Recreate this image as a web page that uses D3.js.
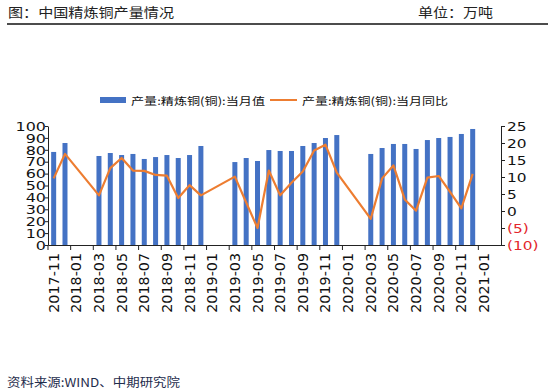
<!DOCTYPE html>
<html>
<head>
<meta charset="utf-8">
<title>中国精炼铜产量情况</title>
<script src="https://d3js.org/d3.v7.min.js"></script>
<style>
  body { margin: 0; background: #fff; }
  svg { display: block; }
</style>
</head>
<body>
<div id="chart"></div>
<script>
// 月份（类别）
const months = [
  "2017-11", "2017-12",
  "2018-01", "2018-02", "2018-03", "2018-04", "2018-05", "2018-06",
  "2018-07", "2018-08", "2018-09", "2018-10", "2018-11", "2018-12",
  "2019-01", "2019-02", "2019-03", "2019-04", "2019-05", "2019-06",
  "2019-07", "2019-08", "2019-09", "2019-10", "2019-11", "2019-12",
  "2020-01", "2020-02", "2020-03", "2020-04", "2020-05", "2020-06",
  "2020-07", "2020-08", "2020-09", "2020-10", "2020-11", "2020-12",
  "2021-01", "2021-02"
]
// 当月值（万吨），1-2月无数据
const output = [
  78.2, 85.7,
  null, null, 74.8, 77.3, 75.6, 76.5, 72.3, 73.9, 75.6, 73.1, 75.6, 83.2,
  null, null, 69.7, 73.1, 70.6, 79.8, 79.0, 79.0, 83.2, 85.7, 89.9, 92.4,
  null, null, 76.5, 81.5, 84.9, 84.9, 80.7, 88.2, 89.9, 90.8, 93.3, 97.5,
  null, null
]
// 当月同比（%）
const yoy = [
  9.6, 16.8,
  null, null, 4.6, 12.6, 15.6, 11.9, 11.8, 10.6, 10.4, 3.8, 7.6, 4.6,
  null, null, 10.1, 2.5, -5.0, 11.9, 4.6, 8.3, 11.6, 17.8, 19.5, 11.3,
  null, null, -2.3, 9.6, 13.4, 3.4, 0.1, 9.8, 10.3, 5.6, 0.8, 10.9,
  null, null
]
const leftTicks = [0, 10, 20, 30, 40, 50, 60, 70, 80, 90, 100]
const rightTicks = [-10, -5, 0, 5, 10, 15, 20, 25]
const seriesNames = ["产量:精炼铜(铜):当月值", "产量:精炼铜(铜):当月同比"]

const W = 548, H = 392
const plot = { left: 48, right: 501, top: 126, bottom: 245 }
const BLUE = "#4472C4", ORANGE = "#ED7D31"

const svg = d3.select("#chart").append("svg")
  .attr("width", W).attr("height", H)

// 标题
svg.append("text")
  .attr("x", 8).attr("y", 17)
  .attr("textLength", 166).attr("lengthAdjust", "spacingAndGlyphs")
  .style("font-family", "'Noto Sans CJK SC'").style("font-size", "13px")
  .attr("fill", "#222")
  .text("图：中国精炼铜产量情况")
svg.append("text")
  .attr("x", 418).attr("y", 17)
  .attr("textLength", 75).attr("lengthAdjust", "spacingAndGlyphs")
  .style("font-family", "'Noto Sans CJK SC'").style("font-size", "13px")
  .attr("fill", "#222")
  .text("单位：万吨")
svg.append("line")
  .attr("x1", 7).attr("x2", 548).attr("y1", 24).attr("y2", 24)
  .attr("stroke", "#111").attr("stroke-width", 1.5)

// 比例尺
const x = d3.scaleBand().domain(months).range([plot.left, plot.right])
const yL = d3.scaleLinear().domain([0, 100]).range([plot.bottom, plot.top])
const yR = d3.scaleLinear().domain([-10, 25]).range([plot.bottom, plot.top])
const barW = 5

// 柱
svg.append("g").selectAll("rect")
  .data(months.map((m, i) => ({ m, v: output[i] })).filter(d => d.v != null))
  .enter().append("rect")
  .attr("x", d => x(d.m) + x.bandwidth() / 2 - barW / 2)
  .attr("width", barW)
  .attr("y", d => yL(d.v))
  .attr("height", d => yL(0) - yL(d.v))
  .attr("fill", BLUE)

// 折线（跨过空缺月份连接）
const linePts = months.map((m, i) => ({ m, v: yoy[i] })).filter(d => d.v != null)
svg.append("path")
  .datum(linePts)
  .attr("fill", "none")
  .attr("stroke", ORANGE)
  .attr("stroke-width", 2.2)
  .attr("stroke-linejoin", "round")
  .attr("d", d3.line()
    .x(d => x(d.m) + x.bandwidth() / 2)
    .y(d => yR(d.v)))

// 左轴
const axL = svg.append("g")
  .attr("transform", `translate(${plot.left},0)`)
  .call(d3.axisLeft(yL).tickValues(leftTicks).tickSize(3).tickSizeOuter(0))
axL.select(".domain").attr("stroke", "#222")
axL.selectAll(".tick line").attr("stroke", "#222")
axL.selectAll(".tick text")
  .attr("x", 0).attr("dy", null).attr("y", 4.2)
  .attr("transform", "translate(-2,0) scale(1.4,1)")
  .style("font-family", "'DejaVu Sans'").style("font-size", "11.4px")
  .attr("fill", "#111")

// 右轴
const fmtR = d => d < 0 ? `(${-d})` : `${d}`
const axR = svg.append("g")
  .attr("transform", `translate(${plot.right},0)`)
  .call(d3.axisRight(yR).tickValues(rightTicks).tickSize(4).tickSizeOuter(0).tickFormat(fmtR))
axR.select(".domain").attr("stroke", "#222")
axR.selectAll(".tick line").attr("stroke", "#222")
axR.selectAll(".tick text")
  .attr("x", 0).attr("dy", null).attr("y", 4.2)
  .attr("transform", "translate(6,0) scale(1.35,1)")
  .style("font-family", "'DejaVu Sans'").style("font-size", "11.4px")
  .attr("fill", d => d < 0 ? "#E3262B" : "#111")

// 横轴：刻度在每两个月的左边缘，标签在柱中心
const labelMonths = months.filter((m, i) => i % 2 === 0 && i < 39)
const axB = svg.append("g")
  .attr("transform", `translate(0,${plot.bottom})`)
  .call(d3.axisBottom(x).tickValues(labelMonths).tickSize(5).tickSizeOuter(0))
axB.select(".domain").attr("stroke", "#222")
axB.selectAll(".tick line")
  .attr("stroke", "#222")
  .attr("x1", -x.bandwidth() / 2).attr("x2", -x.bandwidth() / 2)
axB.selectAll(".tick text")
  .attr("y", 0).attr("dy", null)
  .attr("text-anchor", "end")
  .attr("transform", "translate(5,8) rotate(-90)")
  .style("font-family", "'DejaVu Sans'").style("font-size", "14.3px")
  .attr("fill", "#111")

// 图例
const lg = svg.append("g")
lg.append("rect")
  .attr("x", 100).attr("y", 97).attr("width", 26).attr("height", 6)
  .attr("fill", BLUE)
lg.append("text")
  .attr("x", 131).attr("y", 104.5)
  .attr("textLength", 134).attr("lengthAdjust", "spacingAndGlyphs")
  .style("font-family", "'Noto Sans CJK SC'").style("font-size", "10.5px")
  .attr("fill", "#111")
  .text(seriesNames[0])
lg.append("line")
  .attr("x1", 270).attr("x2", 297).attr("y1", 100).attr("y2", 100)
  .attr("stroke", ORANGE).attr("stroke-width", 2)
lg.append("text")
  .attr("x", 302).attr("y", 104.5)
  .attr("textLength", 146).attr("lengthAdjust", "spacingAndGlyphs")
  .style("font-family", "'Noto Sans CJK SC'").style("font-size", "10.5px")
  .attr("fill", "#111")
  .text(seriesNames[1])

// 来源
svg.append("text")
  .attr("x", 7).attr("y", 386.5)
  .attr("textLength", 173).attr("lengthAdjust", "spacingAndGlyphs")
  .style("font-family", "'Noto Sans CJK SC'").style("font-size", "12px")
  .attr("fill", "#1f2d4d")
  .text("资料来源:WIND、中期研究院")
</script>
</body>
</html>
